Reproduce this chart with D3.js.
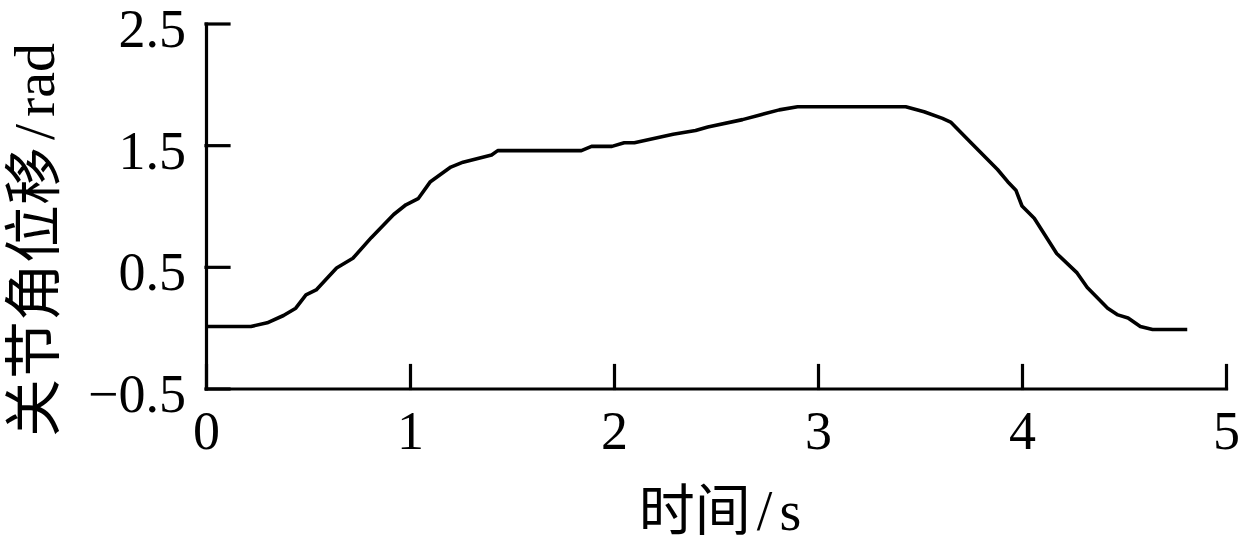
<!DOCTYPE html>
<html lang="zh">
  <head>
    <meta charset="utf-8">
    <title>关节角位移</title>
    <script src="https://d3js.org/d3.v7.min.js"></script>
    <style>
      body { margin: 0; background: #fff; }
      svg text { font-family: "Liberation Serif", "Noto Sans CJK SC", serif; fill: #000; }
    </style>
  </head>
  <body>
    <script>
      // time (s) and joint angle (rad)
      let time = [0, 0.22, 0.30, 0.38, 0.44, 0.49, 0.54, 0.64, 0.72, 0.81, 0.92, 0.98, 1.04, 1.10, 1.20, 1.26, 1.40, 1.43,
                  1.84, 1.89, 1.99, 2.05, 2.10, 2.29, 2.40, 2.46, 2.63, 2.72, 2.81, 2.90,
                  3.43, 3.52, 3.61, 3.65, 3.75, 3.88, 3.93, 3.97, 4.00, 4.06, 4.17, 4.27, 4.32, 4.42, 4.47, 4.52, 4.58, 4.64, 4.81];
      let angle = [0.01, 0.01, 0.04, 0.10, 0.16, 0.27, 0.31, 0.49, 0.57, 0.74, 0.93, 1.01, 1.06, 1.20, 1.32, 1.36, 1.42, 1.455,
                   1.455, 1.49, 1.49, 1.52, 1.52, 1.59, 1.62, 1.65, 1.71, 1.75, 1.79, 1.816,
                   1.816, 1.775, 1.72, 1.69, 1.52, 1.30, 1.20, 1.13, 1.00, 0.90, 0.61, 0.45, 0.33, 0.16, 0.105, 0.08, 0.01, -0.015, -0.015];

      let xTicks = [0, 1, 2, 3, 4, 5];
      let yTicks = [-0.5, 0.5, 1.5, 2.5];

      let width = 1244, height = 552;

      let svg = d3.select("body").append("svg")
                  .attr("width", width)
                  .attr("height", height);

      let x = d3.scaleLinear().domain([0, 5]).range([206, 1226]);
      let y = d3.scaleLinear().domain([-0.5, 2.5]).range([388.5, 23.5]);

      // x axis, ticks pointing inward
      let gx = svg.append("g")
                  .attr("transform", "translate(0," + y(-0.5) + ")")
                  .call(d3.axisBottom(x).tickValues(xTicks).tickSizeInner(-23).tickSizeOuter(0)
                        .tickFormat(d3.format("d")));
      gx.selectAll("text").attr("y", 60).attr("dy", null).style("font-size", "54px");

      let gy = svg.append("g")
                  .attr("transform", "translate(" + x(0) + ",0)")
                  .call(d3.axisLeft(y).tickValues(yTicks).tickSizeInner(-23).tickSizeOuter(0)
                        .tickFormat(d => d < 0 ? "\u2212" + Math.abs(d).toFixed(1) : d.toFixed(1)));
      gy.selectAll("text").attr("x", -20).attr("dy", null).attr("y", 23).style("font-size", "54px");

      svg.selectAll(".domain, .tick line")
         .attr("stroke", "#000")
         .attr("stroke-width", 3.2)
         .attr("stroke-linecap", "square");

      let line = d3.line()
                   .x((d, i) => x(time[i]))
                   .y(d => y(d));

      svg.append("path")
         .datum(angle)
         .attr("fill", "none")
         .attr("stroke", "#000")
         .attr("stroke-width", 3.6)
         .attr("stroke-linejoin", "round")
         .attr("d", line);

      // axis titles
      let xt = svg.append("text")
                  .attr("x", 720)
                  .attr("y", 530)
                  .attr("text-anchor", "middle")
                  .style("font-size", "56px");
      xt.append("tspan").text("时间");
      xt.append("tspan").attr("dx", 6).text("/");
      xt.append("tspan").attr("dx", 7).text("s");

      let yt = svg.append("text")
                  .attr("transform", "translate(54,240) rotate(-90)")
                  .attr("text-anchor", "middle")
                  .style("font-size", "58px");
      yt.append("tspan").text("关节角位移");
      yt.append("tspan").attr("dx", 7).text("/");
      yt.append("tspan").attr("dx", 7).text("rad");
    </script>
  </body>
</html>
